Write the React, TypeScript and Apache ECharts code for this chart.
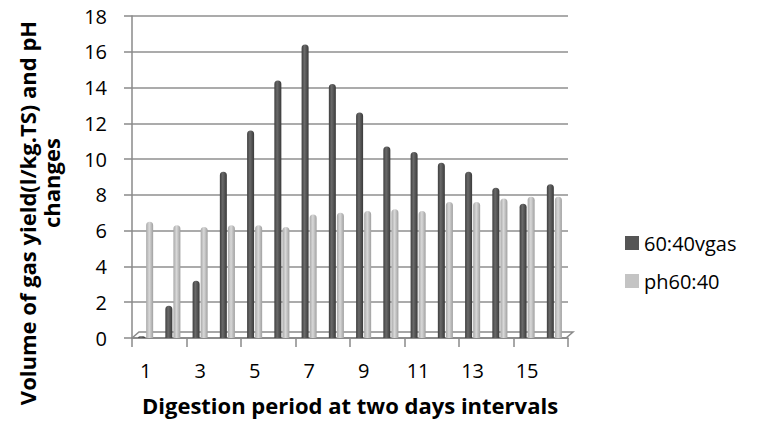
import React, { useEffect, useRef } from "react";
import * as echarts from "echarts";

const categories = ["1", "2", "3", "4", "5", "6", "7", "8", "9", "10", "11", "12", "13", "14", "15", "16"];
const gasYield = [0.1, 1.8, 3.2, 9.3, 11.6, 14.4, 16.4, 14.2, 12.6, 10.7, 10.4, 9.8, 9.3, 8.4, 7.5, 8.6];
const phValues = [6.5, 6.3, 6.2, 6.3, 6.3, 6.2, 6.9, 7.0, 7.1, 7.2, 7.1, 7.6, 7.6, 7.8, 7.9, 7.9];
const seriesNames = ["60:40vgas", "ph60:40"];
const yTitleLines = ["Volume of gas yield(l/kg.TS) and pH", "changes"];
const xTitle = "Digestion period at two days intervals";

const FONT = "'Open Sans', 'Liberation Sans', sans-serif";

export default function App() {
  const ref = useRef<HTMLDivElement>(null);
  useEffect(() => {
    const chart = echarts.init(ref.current!, undefined, { renderer: "svg" });
    const darkGrad = new echarts.graphic.LinearGradient(0, 0, 1, 0, [
      { offset: 0, color: "#3e3e3e" },
      { offset: 0.4, color: "#6a6a6a" },
      { offset: 1, color: "#3a3a3a" },
    ]);
    const lightGrad = new echarts.graphic.LinearGradient(0, 0, 1, 0, [
      { offset: 0, color: "#a8a8a8" },
      { offset: 0.45, color: "#d8d8d8" },
      { offset: 1, color: "#a0a0a0" },
    ]);
    chart.setOption({
      animation: false,
      backgroundColor: "#ffffff",
      grid: { left: 132, right: 189, top: 16, bottom: 90 },
      graphic: [
        {
          type: "text",
          x: 27,
          y: 213,
          rotation: Math.PI / 2,
          style: {
            text: yTitleLines[0],
            fontFamily: FONT,
            fontSize: 22,
            fontWeight: "bold",
            fill: "#000",
            align: "center",
            verticalAlign: "middle",
          },
        },
        {
          type: "text",
          x: 51,
          y: 183,
          rotation: Math.PI / 2,
          style: {
            text: yTitleLines[1],
            fontFamily: FONT,
            fontSize: 22,
            fontWeight: "bold",
            fill: "#000",
            align: "center",
            verticalAlign: "middle",
          },
        },
        {
          type: "polyline",
          silent: true,
          shape: { points: [[132, 338], [566, 338], [573, 332], [139, 332], [132, 338]] },
          style: { stroke: "#8a8a8a", lineWidth: 1.5, fill: "none" },
          z: 1,
        },
      ],
      legend: {
        orient: "vertical",
        left: 620,
        top: 228,
        itemWidth: 14,
        itemHeight: 14,
        itemGap: 18,
        icon: "rect",
        textStyle: { fontFamily: FONT, fontSize: 20, color: "#000" },
        data: [
          { name: seriesNames[0], itemStyle: { color: "#555" } },
          { name: seriesNames[1], itemStyle: { color: "#c4c4c4" } },
        ],
      },
      xAxis: {
        type: "category",
        data: categories,
        name: xTitle,
        nameLocation: "middle",
        nameGap: 56,
        nameTextStyle: { fontFamily: FONT, fontSize: 22, fontWeight: "bold", color: "#000" },
        axisLine: { show: true, lineStyle: { color: "#8a8a8a", width: 1.5 } },
        axisTick: { show: true, length: 9, lineStyle: { color: "#8a8a8a", width: 1.5 } },
        axisLabel: {
          interval: 1,
          margin: 22,
          fontFamily: FONT,
          fontSize: 20,
          color: "#000",
        },
      },
      yAxis: {
        type: "value",
        min: 0,
        max: 18,
        interval: 2,
        axisLine: { show: true, lineStyle: { color: "#8a8a8a", width: 1.5 } },
        axisTick: { show: true, length: 8, lineStyle: { color: "#8a8a8a", width: 1.5 } },
        axisLabel: { margin: 25, fontFamily: FONT, fontSize: 20, color: "#000" },
        splitLine: { show: true, lineStyle: { color: "#8f8f8f", width: 1.5 } },
      },
      series: [
        {
          name: seriesNames[0],
          type: "bar",
          data: gasYield,
          barWidth: 7,
          barGap: "15%",
          z: 3,
          itemStyle: { color: darkGrad, borderRadius: [3.5, 3.5, 0, 0] },
        },
        {
          name: seriesNames[1],
          type: "bar",
          data: phValues,
          barWidth: 7,
          z: 3,
          itemStyle: { color: lightGrad, borderRadius: [3.5, 3.5, 0, 0] },
        },
      ],
    });
    return () => chart.dispose();
  }, []);
  return <div ref={ref} style={{ width: 757, height: 428, margin: -8 }} />;
}
